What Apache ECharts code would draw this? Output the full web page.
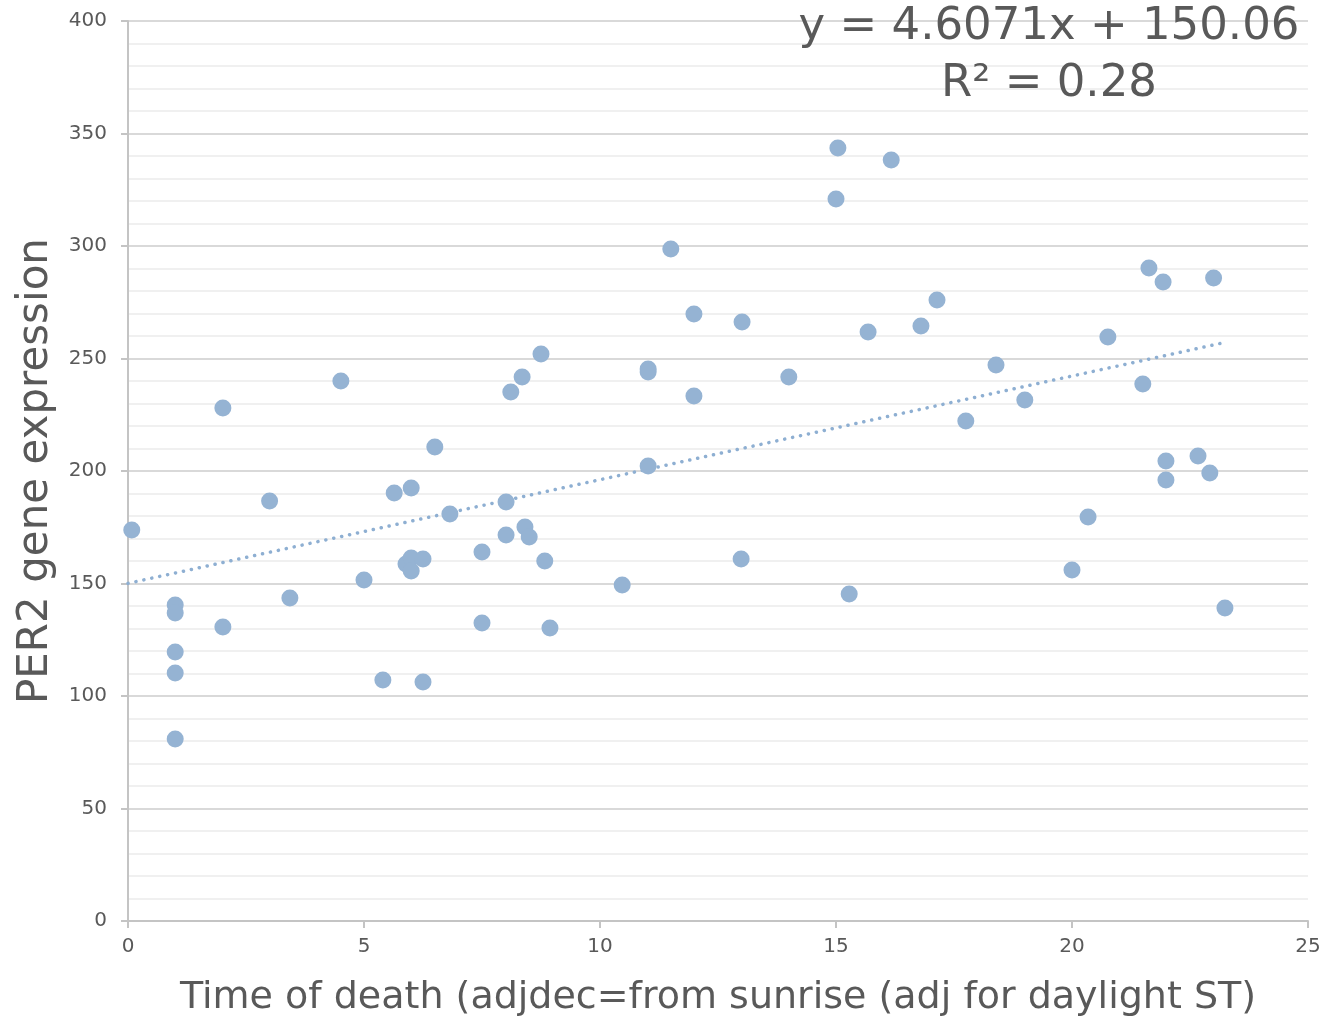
<!DOCTYPE html>
<html><head><meta charset="utf-8">
<script src="https://cdn.jsdelivr.net/npm/echarts@6/dist/echarts.min.js"></script>
<style>html,body{margin:0;padding:0;background:#fff}#c{width:1325px;height:1019px}</style>
</head><body><div id="c"></div>
<script>
const timeOfDeath = [0.08,1.0,1.0,1.0,1.0,1.0,2.01,2.01,3.0,3.43,4.51,5.0,5.40,5.64,6.0,5.89,6.0,6.0,6.25,6.25,6.50,6.82,7.5,7.5,8.01,8.01,8.11,8.35,8.41,8.50,8.75,8.83,8.94,10.47,11.02,11.02,11.02,11.50,11.99,11.99,12.99,13.01,14.0,15.0,15.04,15.28,15.68,16.17,16.80,17.14,17.75,18.39,19.0,20.0,20.34,20.76,21.50,21.63,21.93,21.99,21.99,22.67,22.92,23.0,23.24];
const per2Expression = [173.8,140.4,136.9,119.6,110.2,80.9,228,130.7,186.7,143.6,240,151.6,107.1,190.2,192.4,158.7,161.3,155.6,160.9,106.2,210.7,180.9,164,132.4,186.2,171.6,235.1,241.8,175.1,170.7,252,160,130.2,149.3,245.3,244,202.2,298.7,269.8,233.3,160.9,266.2,241.8,320.9,343.6,145.3,261.8,338.2,264.4,276,222.2,247.1,231.6,156,179.6,259.6,238.7,290.2,284,204.4,196,206.7,199.1,285.8,139.1];
const trendSlope = 4.6071;
const trendIntercept = 150.06;
const trendRange = [0, 23.24];
const equationText = 'y = 4.6071x + 150.06';
const r2Text = 'R\u00B2 = 0.28';
const xTitle = 'Time of death (adjdec=from sunrise (adj for daylight ST)';
const yTitle = 'PER2 gene expression';

const FONT = 'DejaVu Sans';
const TXT = '#595959';
const points = timeOfDeath.map((x, i) => [x, per2Expression[i]]);
const trend = trendRange.map(x => [x, trendSlope * x + trendIntercept]);

const chart = echarts.init(document.getElementById('c'), null, {renderer: 'canvas'});
chart.setOption({
  animation: false,
  backgroundColor: '#fff',
  grid: {left: 128, right: 17, top: 21, bottom: 98, containLabel: false, outerBoundsMode: 'none'},
  xAxis: {
    type: 'value', min: 0, max: 25, interval: 5,
    name: xTitle, nameLocation: 'middle', nameGap: 58,
    nameTextStyle: {fontFamily: FONT, fontSize: 38, color: TXT},
    axisLine: {show: true, lineStyle: {color: '#c4c4c4', width: 2}},
    axisTick: {show: true, length: 7, lineStyle: {color: '#c4c4c4', width: 2}},
    axisLabel: {fontFamily: FONT, fontSize: 20, color: TXT, margin: 16},
    splitLine: {show: false}
  },
  yAxis: {
    type: 'value', min: 0, max: 400, interval: 50,
    name: yTitle, nameLocation: 'middle', nameGap: 71, nameRotate: 90,
    nameTextStyle: {fontFamily: FONT, fontSize: 42, color: TXT},
    axisLine: {show: true, lineStyle: {color: '#c4c4c4', width: 2}},
    axisTick: {show: true, length: 7, lineStyle: {color: '#c4c4c4', width: 2}},
    axisLabel: {fontFamily: FONT, fontSize: 20, color: TXT, margin: 21},
    splitLine: {show: true, lineStyle: {color: '#d9d9d9', width: 2}},
    minorTick: {show: false, splitNumber: 5},
    minorSplitLine: {show: true, lineStyle: {color: '#f0f0f0', width: 2}}
  },
  series: [
    {
      type: 'line', data: trend, symbol: 'none', silent: true, z: 1,
      lineStyle: {color: '#8eafd2', width: 3.5, type: [0.1, 8], cap: 'round'}
    },
    {
      type: 'scatter', data: points, symbol: 'circle', symbolSize: 17, z: 2,
      itemStyle: {color: '#95b3d3', opacity: 1}
    }
  ],
  graphic: [
    {type: 'text', x: 1049, y: 27, z: 10,
     style: {text: equationText, fontFamily: FONT, fontSize: 45, fill: TXT, align: 'center', verticalAlign: 'middle'}},
    {type: 'text', x: 1049, y: 84, z: 10,
     style: {text: r2Text, fontFamily: FONT, fontSize: 45, fill: TXT, align: 'center', verticalAlign: 'middle'}}
  ]
});
</script>
</body></html>
